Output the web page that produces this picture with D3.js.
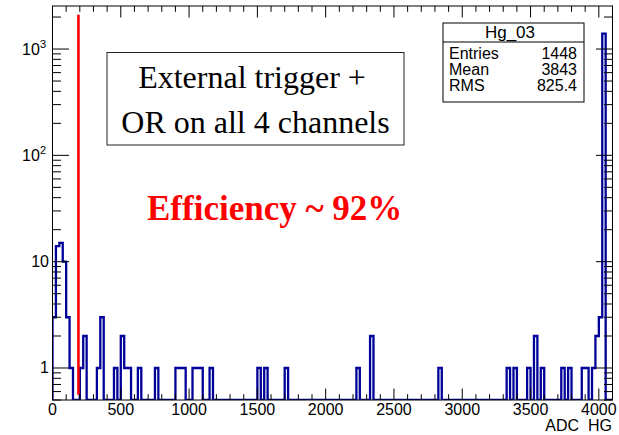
<!DOCTYPE html>
<html>
<head>
<meta charset="utf-8">
<script src="https://cdn.jsdelivr.net/npm/d3@7"></script>
<style>
  html, body { margin: 0; padding: 0; background: #fff; }
  svg { display: block; }
  .sans { font-family: "Liberation Sans", Arial, Helvetica, sans-serif; }
  .serif { font-family: "Liberation Serif", "Times New Roman", serif; }
</style>
</head>
<body>
<svg id="chart" width="619" height="435"></svg>
<script>
// ---------------- data ----------------
const binWidth = 25;           // ADC counts per bin
const xMax = 4100;             // histogram upper edge
// low edges (ADC) of the non-empty bins and their contents
const binLow = [0, 25, 50, 75, 100, 125, 200, 225, 325, 350, 450, 500, 525, 550, 625, 750,
                900, 925, 950, 1025, 1050, 1075, 1150, 1500, 1550, 1700, 2225, 2325, 2825,
                3325, 3375, 3475, 3525, 3575, 3725, 3775, 3875, 3900, 3950, 3975, 4000, 4025];
const binCount = [3, 14, 15, 10, 3, 1, 1, 2, 1, 3, 1, 2, 1, 1, 1, 1,
                  1, 1, 1, 1, 1, 1, 1, 1, 1, 1, 1, 2, 1,
                  1, 1, 1, 2, 1, 1, 1, 1, 1, 1, 2, 3, 1395];
const xTickLabels = [0, 500, 1000, 1500, 2000, 2500, 3000, 3500, 4000];
const yDecades = [1, 10, 100, 1000];
const threshold = 190;                 // red line position (ADC)
const thresholdRange = [0.56, 2100];   // red line extent (counts)
const statsTitle = "Hg_03";
const statsNames = ["Entries", "Mean", "RMS"];
const statsValues = ["1448", "3843", "825.4"];
const boxLines = ["External trigger +", "OR on all 4 channels"];
const effText = "Efficiency ~ 92%";
const xTitle = "ADC  HG";

// ---------------- layout ----------------
const svg = d3.select("#chart");
const L = 52.5, R = 612.5, T = 6, B = 400;
const x = d3.scaleLinear().domain([0, xMax]).range([L, R]);
const y = d3.scaleLog().domain([0.5, 2540]).range([B, T]);

// full bin contents
const nBins = Math.round(xMax / binWidth);
const counts = new Array(nBins).fill(0);
binLow.forEach((lo, i) => { counts[Math.round(lo / binWidth)] = binCount[i]; });

// step outline points
const pts = [[0, 0]];
counts.forEach((c, i) => {
  pts.push([i * binWidth, c]);
  pts.push([(i + 1) * binWidth, c]);
});
pts.push([xMax, 0]);
const yv = c => c > 0 ? y(c) : B;

svg.append("clipPath").attr("id", "fr").append("rect")
  .attr("x", L).attr("y", T).attr("width", R - L).attr("height", B - T);

svg.append("path")
  .attr("clip-path", "url(#fr)")
  .attr("d", d3.line().x(d => x(d[0])).y(d => yv(d[1]))(pts))
  .attr("fill", "none")
  .attr("stroke", "#000099")
  .attr("stroke-width", 2.3)
  .attr("stroke-linejoin", "miter");

// red threshold line
svg.append("line")
  .attr("x1", x(threshold)).attr("x2", x(threshold))
  .attr("y1", y(thresholdRange[0])).attr("y2", y(thresholdRange[1]))
  .attr("stroke", "#ff0000").attr("stroke-width", 2.6);

// ---------------- axes ----------------
const g = svg.append("g").attr("stroke", "#000").attr("stroke-width", 1);
const xMinor = d3.range(0, xMax + 1, 100).filter(v => v % 500 !== 0);
const xMajor = d3.range(0, xMax + 1, 500);
const xt = (v, len) => {
  g.append("line").attr("x1", x(v)).attr("x2", x(v)).attr("y1", B).attr("y2", B - len);
  g.append("line").attr("x1", x(v)).attr("x2", x(v)).attr("y1", T).attr("y2", T + len);
};
xMajor.forEach(v => xt(v, 11.5));
xMinor.forEach(v => xt(v, 5.8));

const yMinor = [];
[0.1, 1, 10, 100, 1000].forEach(d => {
  for (let k = 2; k <= 9; k++) {
    const v = k * d;
    if (v >= 0.5 && v <= 2540) yMinor.push(v);
  }
});
const yt = (v, len) => {
  g.append("line").attr("x1", L).attr("x2", L + len).attr("y1", y(v)).attr("y2", y(v));
  g.append("line").attr("x1", R).attr("x2", R - len).attr("y1", y(v)).attr("y2", y(v));
};
yDecades.forEach(v => yt(v, 16.5));
yMinor.forEach(v => yt(v, 8.5));

svg.append("rect").attr("x", L).attr("y", T).attr("width", R - L).attr("height", B - T)
  .attr("fill", "none").attr("stroke", "#000").attr("stroke-width", 1);

// x tick labels
svg.append("g").selectAll("text").data(xTickLabels).join("text")
  .attr("class", "sans").attr("x", d => x(d)).attr("y", 415)
  .attr("text-anchor", "middle").attr("font-size", 16).text(d => d);

// y tick labels
yDecades.forEach(v => {
  const t = svg.append("text").attr("class", "sans").attr("x", v >= 100 ? 46 : 49)
    .attr("y", y(v) + 5.5).attr("text-anchor", "end").attr("font-size", 16);
  if (v < 100) {
    t.text(String(v));
  } else {
    t.append("tspan").text("10");
    t.append("tspan").attr("dy", -7).attr("font-size", 11).text(String(Math.round(Math.log10(v))));
  }
});

svg.append("text").attr("class", "sans").attr("x", 612).attr("y", 431)
  .attr("text-anchor", "end").attr("font-size", 16).attr("xml:space", "preserve")
  .style("white-space", "pre").text(xTitle);

// ---------------- stats box ----------------
const sb = svg.append("g");
sb.append("rect").attr("x", 443).attr("y", 23).attr("width", 141).attr("height", 79)
  .attr("fill", "#fff").attr("stroke", "#000").attr("stroke-width", 1);
sb.append("line").attr("x1", 443).attr("x2", 584).attr("y1", 42).attr("y2", 42)
  .attr("stroke", "#000").attr("stroke-width", 1);
sb.append("text").attr("class", "sans").attr("x", 510).attr("y", 37.5)
  .attr("text-anchor", "middle").attr("font-size", 17).text(statsTitle);
statsNames.forEach((n, i) => {
  sb.append("text").attr("class", "sans").attr("x", 449).attr("y", 58.5 + i * 16)
    .attr("font-size", 16).text(n);
  sb.append("text").attr("class", "sans").attr("x", 577).attr("y", 58.5 + i * 16)
    .attr("text-anchor", "end").attr("font-size", 16).text(statsValues[i]);
});

// ---------------- annotation box ----------------
svg.append("rect").attr("x", 107).attr("y", 52.5).attr("width", 297).attr("height", 92.5)
  .attr("fill", "#fff").attr("stroke", "#222").attr("stroke-width", 1);
boxLines.forEach((s, i) => {
  svg.append("text").attr("class", "serif").attr("x", i === 0 ? 252 : 255.5)
    .attr("y", 88 + i * 45).attr("text-anchor", "middle").attr("font-size", 32).text(s);
});

svg.append("text").attr("class", "serif").attr("x", 147).attr("y", 220)
  .attr("font-size", 35).attr("font-weight", "bold").attr("fill", "#ff0000").text(effText);
</script>
</body>
</html>
